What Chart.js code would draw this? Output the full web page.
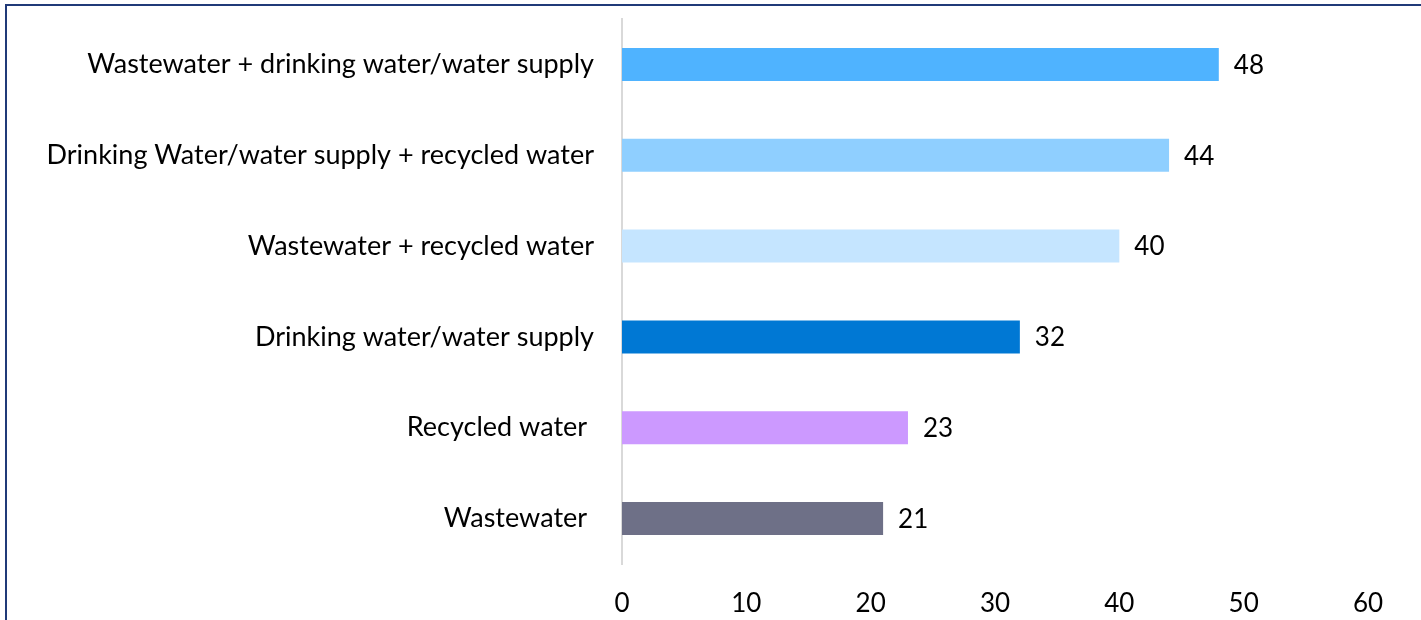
<!DOCTYPE html>
<html>
<head>
<meta charset="utf-8">
<script src="https://cdn.jsdelivr.net/npm/chart.js@4"></script>
<style>
  html, body { margin:0; padding:0; background:#fff; overflow:hidden; }
  #wrap { position:relative; width:1421px; height:620px; }
  #frame { position:absolute; left:5px; top:4px; width:1500px; height:700px; border:2px solid #203a78; box-sizing:border-box; }
  #chart { position:absolute; left:0; top:0; }
</style>
</head>
<body>
<div id="wrap">
  <div id="frame"></div>
  <canvas id="chart" width="1421" height="620"></canvas>
</div>
<script>
// chart data
const categories = [
  "Wastewater + drinking water/water supply",
  "Drinking Water/water supply + recycled water",
  "Wastewater + recycled water",
  "Drinking water/water supply",
  "Recycled water ",
  "Wastewater "
];
const counts = [48, 44, 40, 32, 23, 21];
const barColors = ["#4fb3ff", "#8fcfff", "#c5e5ff", "#0078d4", "#cc99ff", "#6e7087"];
const xTicks = [0, 10, 20, 30, 40, 50, 60];

const fontFamily = "Lato, 'Open Sans', sans-serif";

// value labels next to bars
const valueLabels = {
  id: "valueLabels",
  afterDatasetsDraw(chart){
    const ctx = chart.ctx;
    const meta = chart.getDatasetMeta(0);
    ctx.save();
    ctx.font = "26px " + fontFamily;
    ctx.fillStyle = "#000";
    ctx.textBaseline = "middle";
    ctx.textAlign = "left";
    meta.data.forEach((bar, i) => {
      ctx.fillText(String(counts[i]), bar.x + 15, bar.y + 1);
    });
    ctx.restore();
  }
};

new Chart(document.getElementById("chart"), {
  type: "bar",
  data: {
    labels: categories,
    datasets: [{
      data: counts,
      backgroundColor: barColors,
      barPercentage: 0.364,
      categoryPercentage: 1
    }]
  },
  options: {
    indexAxis: "y",
    responsive: false,
    animation: false,
    devicePixelRatio: 1,
    layout: { padding: { top: 19, right: 53, bottom: 0, left: 0 } },
    plugins: { legend: { display: false }, tooltip: { enabled: false } },
    scales: {
      y: {
        grid: { display: false, drawTicks: false },
        border: { display: true, color: "#d9d9d9", width: 2 },
        ticks: { color: "#000", font: { family: fontFamily, size: 27 }, padding: 28 },
        afterFit(scale){
          scale.width = 622;
          scale.paddingTop = 0;
          scale.paddingBottom = 0;
        }
      },
      x: {
        min: 0,
        max: 60,
        afterBuildTicks(scale){ scale.ticks = xTicks.map(v => ({ value: v })); },
        grid: { display: false, drawTicks: false },
        border: { display: false },
        ticks: { color: "#000", font: { family: fontFamily, size: 26 }, padding: 24 },
        afterFit(scale){ scale.height = 56; }
      }
    }
  },
  plugins: [valueLabels]
});
</script>
</body>
</html>
